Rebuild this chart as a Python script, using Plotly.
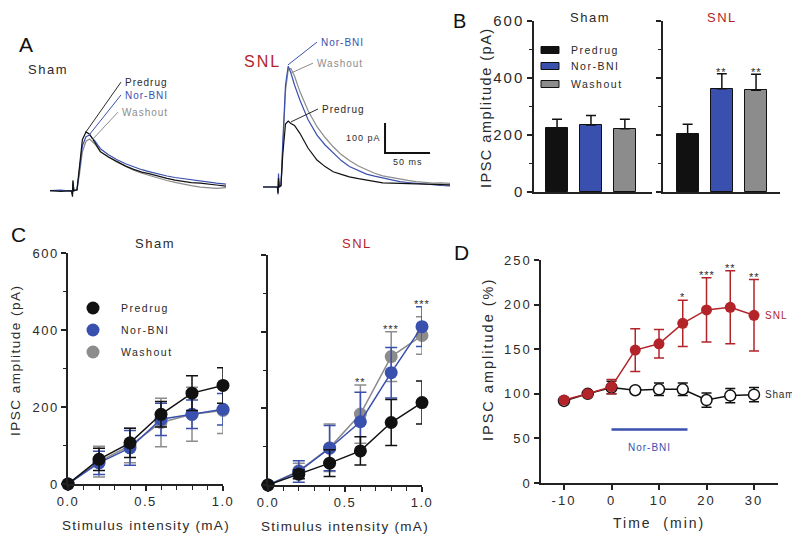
import plotly.graph_objects as go

# the page puts the plot 8 px in from the top-left corner, so the figure is
# sized to the visible area and every layout pixel is measured on the screen
OFF = 8
W, H = 800 - OFF, 538 - OFF

BLACK = "#111111"
TXT = "#2a2a2a"
BLUE = "#3a50ae"
GREY = "#8c8c8c"
RED = "#b3242a"
FONT = "Liberation Sans, Arial, sans-serif"

# ---------- A: example IPSC traces (time in ms, amplitude in pA) ----------
t_sham = [0, 12, 24, 25, 25.5, 26.5, 30, 33, 36, 40, 44, 50, 56, 65, 74, 84, 93,
          102, 111, 120, 130, 139, 148, 157, 167, 176, 185, 196]
sham_predrug = [0, -2, 0, -20, 35, 0, 3, 100, 170, 196, 188, 160, 130, 112, 97, 82, 71,
                62, 56, 48, 41, 35, 30, 27, 25, 21, 19, 15]
sham_norbni = [0, 2, -2, -15, 30, 0, 2, 75, 150, 180, 186, 165, 140, 120, 104, 90, 79,
               70, 63, 56, 49, 44, 40, 35, 31, 28, 25, 22]
sham_washout = [0, 0, 0, -10, 20, 0, 2, 60, 130, 165, 172, 155, 130, 112, 96, 82, 68,
                58, 50, 42, 34, 28, 22, 17, 12, 10, 8, 10]

t_snl = [0, 8, 16, 16.7, 17.2, 18, 20, 22, 25, 28, 31, 35, 41, 50, 60, 69, 78, 87, 96,
         106, 115, 124, 133, 143, 152, 161, 170, 180, 189, 198, 208]
snl_predrug = [0, -1, 0, -20, 30, 0, 5, 110, 210, 220, 212, 205, 179, 130, 90, 68, 51,
               42, 34, 28, 23, 18, 14, 13, 12, 11, 10, 10, 10, 8, 7]
snl_norbni = [0, 1, 0, -25, 45, 0, 5, 150, 340, 403, 380, 340, 290, 225, 173, 140, 113,
              88, 68, 54, 43, 36, 30, 24, 18, 15, 12, 10, 7, 5, 4]
snl_washout = [0, 0, 0, -10, 20, 0, 3, 130, 320, 390, 395, 370, 318, 255, 201, 165, 134,
               108, 88, 70, 57, 46, 37, 31, 26, 22, 18, 15, 13, 14, 12]

scale_ms = 50
scale_pa = 100
scale_origin = (135.6, 113)

# ---------- B: mean IPSC amplitude ----------
conditions = ["Predrug", "Nor-BNI", "Washout"]
b_sham_mean = [225, 235, 222]
b_sham_sem = [30, 33, 33]
b_snl_mean = [203, 362, 357]
b_snl_sem = [35, 53, 56]
b_snl_stars = ["", "**", "**"]

# ---------- C: input-output curves ----------
intensity = [0, 0.2, 0.4, 0.6, 0.8, 1.0]
c_sham_predrug = [0, 64, 107, 181, 236, 256]
c_sham_predrug_sem = [0, 29, 38, 33, 45, 46]
c_sham_norbni = [0, 55, 94, 168, 181, 194]
c_sham_norbni_sem = [0, 30, 45, 42, 37, 41]
c_sham_washout = [0, 58, 100, 160, 181, 191]
c_sham_washout_sem = [0, 40, 45, 63, 70, 60]
c_snl_predrug = [0, 28, 57, 89, 163, 215]
c_snl_predrug_sem = [0, 12, 35, 37, 60, 56]
c_snl_norbni = [0, 35, 96, 165, 293, 413]
c_snl_norbni_sem = [0, 28, 59, 77, 66, 52]
c_snl_washout = [0, 37, 97, 185, 335, 390]
c_snl_washout_sem = [0, 20, 62, 76, 65, 49]
c_snl_stars = ["", "", "", "**", "***", "***"]

# ---------- D: time course ----------
time_min = [-10, -5, 0, 5, 10, 15, 20, 25, 30]
d_snl = [93, 100, 108, 149, 156, 179, 194, 197, 188]
d_snl_sem = [2, 3, 8, 24, 16, 26, 36, 41, 40]
d_sham = [92, 100, 107, 104, 105, 105, 93, 98, 99]
d_sham_sem = [2, 2, 7, 3, 7, 7, 8, 8, 8]
d_stars = ["", "", "", "", "", "*", "***", "**", "**"]
norbni_start, norbni_end, norbni_level = 0, 16, 60


def px(x):
    return (x - OFF) / W


def py(y):
    return 1 - (y - OFF) / H


def sp(s, ls=1.5):
    return f'<span style="letter-spacing:{ls}px">{s}</span>'


fig = go.Figure()
annotations = []
shapes = []


def note(x, y, s, size=12, color=TXT, xanchor="center", yanchor="middle",
         angle=0, xref="paper", yref="paper", ls=1.5, yshift=0):
    if xref == "paper":
        x = px(x)
    if yref == "paper":
        y = py(y)
    annotations.append(dict(x=x, y=y, xref=xref, yref=yref, text=sp(s, ls),
                            showarrow=False, textangle=angle, xanchor=xanchor,
                            yanchor=yanchor, yshift=yshift, borderpad=0,
                            font=dict(size=size, color=color, family=FONT)))


# ---- panel A ----
for t, y, c in [(t_sham, sham_washout, GREY), (t_sham, sham_norbni, BLUE),
                (t_sham, sham_predrug, BLACK)]:
    fig.add_scatter(x=t, y=y, mode="lines", line=dict(color=c, width=1.2),
                    xaxis="x", yaxis="y")
for t, y, c in [(t_snl, snl_washout, GREY), (t_snl, snl_norbni, BLUE),
                (t_snl, snl_predrug, BLACK)]:
    fig.add_scatter(x=t, y=y, mode="lines", line=dict(color=c, width=1.2),
                    xaxis="x2", yaxis="y2")
x0, y0 = scale_origin
fig.add_scatter(x=[x0, x0, x0 + scale_ms], y=[y0 + scale_pa, y0, y0], mode="lines",
                line=dict(color=BLACK, width=2), xaxis="x2", yaxis="y2")

# leader lines + labels
for (xa, ya, xb, yb, lab, col, xr, yr) in [
    (40, 196, 78.9, 362, "Predrug", TXT, "x", "y"),
    (43.3, 185, 78.9, 319, "Nor-BNI", BLUE, "x", "y"),
    (46.7, 169, 75.6, 262, "Washout", GREY, "x", "y"),
    (27.8, 407, 60, 483, "Nor-BNI", BLUE, "x2", "y2"),
    (31.1, 380, 55.6, 413, "Washout", GREY, "x2", "y2"),
    (31.1, 217, 61.1, 260, "Predrug", TXT, "x2", "y2"),
]:
    shapes.append(dict(type="line", xref=xr, yref=yr, x0=xa, y0=ya, x1=xb, y1=yb,
                       line=dict(color=col, width=1)))
    note(xb + 3.5, yb, lab, size=10, color=col, xanchor="left", xref=xr, yref=yr, ls=1)

note(x0 - 3, y0 + scale_pa / 2, "100 pA", size=9, xanchor="right", xref="x2",
     yref="y2", ls=1)
note(x0 + scale_ms / 2, y0 - 30, "50 ms", size=9, xref="x2", yref="y2", ls=1)

note(26, 45, "A", size=21, ls=0, color=BLACK)
note(48, 70, "Sham", size=13, ls=1.5)
note(262, 62, "SNL", size=16, color=RED, ls=2)

# ---- panel B ----
bar_cols = [BLACK, BLUE, GREY]
for i, c in enumerate(bar_cols):
    for (mean, sem, ax) in [(b_sham_mean, b_sham_sem, "3"), (b_snl_mean, b_snl_sem, "4")]:
        fig.add_bar(x=[i], y=[mean[i]], width=0.64, marker=dict(color=c, line=dict(color=BLACK, width=1)),
                    error_y=dict(type="data", array=[sem[i]], arrayminus=[0], symmetric=False,
                                 color=BLACK, thickness=1.5, width=5),
                    xaxis="x" + ax, yaxis="y" + ax)
for i, s in enumerate(b_snl_stars):
    if s:
        note(i, b_snl_mean[i] + b_snl_sem[i], s, size=11, xref="x4", yref="y4",
             yanchor="bottom", ls=1, yshift=-5)

for yc, c, lab in zip([50, 66, 84], bar_cols, conditions):
    shapes.append(dict(type="rect", xref="paper", yref="paper", x0=px(541), x1=px(559),
                       y0=py(yc - 3.5), y1=py(yc + 3.5), fillcolor=c,
                       line=dict(color=BLACK, width=1)))
    note(570, yc, lab, size=10.5, xanchor="left", ls=1.5)

note(459, 8.5, "B", size=20, ls=0, color=BLACK, yanchor="top")
note(590, 8.5, "Sham", size=13, yanchor="top")
note(722, 8.5, "SNL", size=13, color=RED, yanchor="top")
note(486, 107, "IPSC amplitude (pA)", size=14.5, angle=-90, ls=1.5)

# ---- panel C ----
c_series = [
    ("5", c_sham_washout, c_sham_washout_sem, GREY),
    ("5", c_sham_norbni, c_sham_norbni_sem, BLUE),
    ("5", c_sham_predrug, c_sham_predrug_sem, BLACK),
    ("6", c_snl_washout, c_snl_washout_sem, GREY),
    ("6", c_snl_norbni, c_snl_norbni_sem, BLUE),
    ("6", c_snl_predrug, c_snl_predrug_sem, BLACK),
]
for ax, y, e, c in c_series:
    fig.add_scatter(x=intensity, y=y, mode="lines+markers",
                    line=dict(color=c, width=1.5), marker=dict(color=c, size=13),
                    error_y=dict(type="data", array=e, color=c, thickness=1.5, width=6),
                    cliponaxis=False, xaxis="x" + ax, yaxis="y" + ax)
for i, s in enumerate(c_snl_stars):
    if s:
        top = max(c_snl_predrug[i] + c_snl_predrug_sem[i], c_snl_norbni[i] + c_snl_norbni_sem[i],
                  c_snl_washout[i] + c_snl_washout_sem[i])
        note(intensity[i], top, s, size=11, xref="x6", yref="y6", yanchor="bottom",
             ls=1, yshift=-4)

for yc, c, lab in zip([308, 330, 352], bar_cols, conditions):
    shapes.append(dict(type="circle", xref="paper", yref="paper", xsizemode="pixel",
                       ysizemode="pixel", xanchor=px(93), yanchor=py(yc),
                       x0=-6.5, x1=6.5, y0=-6.5, y1=6.5, fillcolor=c, line=dict(width=0)))
    note(120, yc, lab, size=10.5, xanchor="left", ls=1.5)

note(18, 234, "C", size=21, ls=0, color=BLACK)
note(155, 243, "Sham", size=13)
note(357, 243, "SNL", size=13, color=RED)
note(15, 360, "IPSC amplitude (pA)", size=13.5, angle=-90, ls=1.5)
note(146, 525, "Stimulus intensity (mA)", size=13.5, ls=1.3)
note(345, 526, "Stimulus intensity (mA)", size=13.5, ls=1.3)

# ---- panel D ----
fig.add_scatter(x=[norbni_start, norbni_end], y=[norbni_level, norbni_level], mode="lines",
                line=dict(color=BLUE, width=2.5), xaxis="x7", yaxis="y7")
fig.add_scatter(x=time_min, y=d_sham, mode="lines+markers",
                line=dict(color=BLACK, width=1.5),
                marker=dict(color="white", size=11, line=dict(color=BLACK, width=1.5)),
                error_y=dict(type="data", array=d_sham_sem, color=BLACK, thickness=1.5, width=5),
                xaxis="x7", yaxis="y7")
fig.add_scatter(x=time_min, y=d_snl, mode="lines+markers",
                line=dict(color=RED, width=1.5), marker=dict(color=RED, size=11),
                error_y=dict(type="data", array=d_snl_sem, color=RED, thickness=1.5, width=5),
                xaxis="x7", yaxis="y7")
for i, s in enumerate(d_stars):
    if s:
        note(time_min[i], d_snl[i] + d_snl_sem[i], s, size=11, xref="x7", yref="y7",
             yanchor="bottom", ls=1, yshift=-4)
note((norbni_start + norbni_end) / 2, norbni_level - 20, "Nor-BNI", size=10, color=BLUE,
     xref="x7", yref="y7", ls=1)
note(time_min[-1] + 2.1, d_snl[-1], "SNL", size=10, color=RED, xanchor="left",
     xref="x7", yref="y7", ls=1)
note(time_min[-1] + 2.1, d_sham[-1], "Sham", size=10, xanchor="left",
     xref="x7", yref="y7", ls=0.8)

note(461, 252, "D", size=21, ls=0, color=BLACK)
note(488, 360, "IPSC amplitude (%)", size=14.5, angle=-90, ls=2)
note(659, 523, "Time  (min)", size=14, ls=2)

# ---- axes ----
tickfont = dict(size=13, color=TXT, family=FONT)


def axis(x0p, x1p, rng, **kw):
    d = dict(domain=[x0p, x1p], range=rng, showgrid=False, zeroline=False,
             showline=True, linecolor="#222222", linewidth=1.5, ticks="outside",
             tickwidth=1.5, ticklen=5, tickcolor="#222222", tickfont=tickfont,
             automargin=False)
    d.update(kw)
    return d


minor_y = dict(dtick=100, ticks="outside", ticklen=3, tickwidth=1.2, tickcolor="#222222")
minor_x = dict(dtick=0.1, ticks="outside", ticklen=4, tickwidth=1.2, tickcolor="#222222")
hidden = dict(visible=False, showgrid=False, zeroline=False, automargin=False)

layout_axes = dict(
    xaxis=dict(hidden, domain=[px(50), px(226)], range=[0, 195.6]),
    yaxis=dict(hidden, domain=[py(200), py(40)], range=[(190.7 - 200) / 0.3, (190.7 - 40) / 0.3]),
    xaxis2=dict(hidden, domain=[px(263), px(450)], range=[0, 207.8]),
    yaxis2=dict(hidden, domain=[py(200), py(40)], range=[(187 - 200) / 0.3, (187 - 40) / 0.3]),
    xaxis3=axis(px(534), px(652), [-0.68, 2.8], anchor="y3", ticks="", showticklabels=False),
    yaxis3=axis(py(192), py(21), [0, 600], anchor="x3", tickvals=[0, 200, 400, 600],
                ticktext=[sp(v, 2) for v in ["0", "200", "400", "600"]],
                tickfont=dict(tickfont, size=15), minor=minor_y),
    xaxis4=axis(px(663), px(780), [-0.72, 2.7], anchor="y4", ticks="", showticklabels=False),
    yaxis4=axis(py(192), py(21), [0, 600], anchor="x4", dtick=200, showticklabels=False,
                minor=minor_y),
    xaxis5=axis(px(68), px(223), [0, 1], anchor="y5", tickvals=[0, 0.5, 1],
                ticktext=[sp(v) for v in ["0.0", "0.5", "1.0"]], minor=minor_x),
    yaxis5=axis(py(484), py(253), [0, 600], anchor="x5", tickvals=[0, 200, 400, 600],
                ticktext=[sp(v) for v in ["0", "200", "400", "600"]], minor=minor_y),
    xaxis6=axis(px(268), px(422), [0, 1], anchor="y6", tickvals=[0, 0.5, 1],
                ticktext=[sp(v) for v in ["0.0", "0.5", "1.0"]], minor=minor_x),
    yaxis6=axis(py(485), py(255), [0, 600], anchor="x6", dtick=200, showticklabels=False,
                minor=minor_y),
    xaxis7=axis(px(541), px(778), [-14.84, 35.05], anchor="y7", tickvals=[-10, 0, 10, 20, 30],
                ticktext=[sp(v, 2) for v in ["-10", "0", "10", "20", "30"]]),
    yaxis7=axis(py(483), py(260), [0, 250], anchor="x7", tickvals=[0, 50, 100, 150, 200, 250],
                ticktext=[sp(v, 2) for v in ["0", "50", "100", "150", "200", "250"]]),
)

fig.update_layout(
    width=W, height=H, margin=dict(l=0, r=0, t=0, b=0, autoexpand=False),
    paper_bgcolor="white", plot_bgcolor="white", showlegend=False,
    font=dict(family=FONT, color=TXT), bargap=0,
    annotations=annotations, shapes=shapes, **layout_axes,
)

fig.write_html("out.html")
